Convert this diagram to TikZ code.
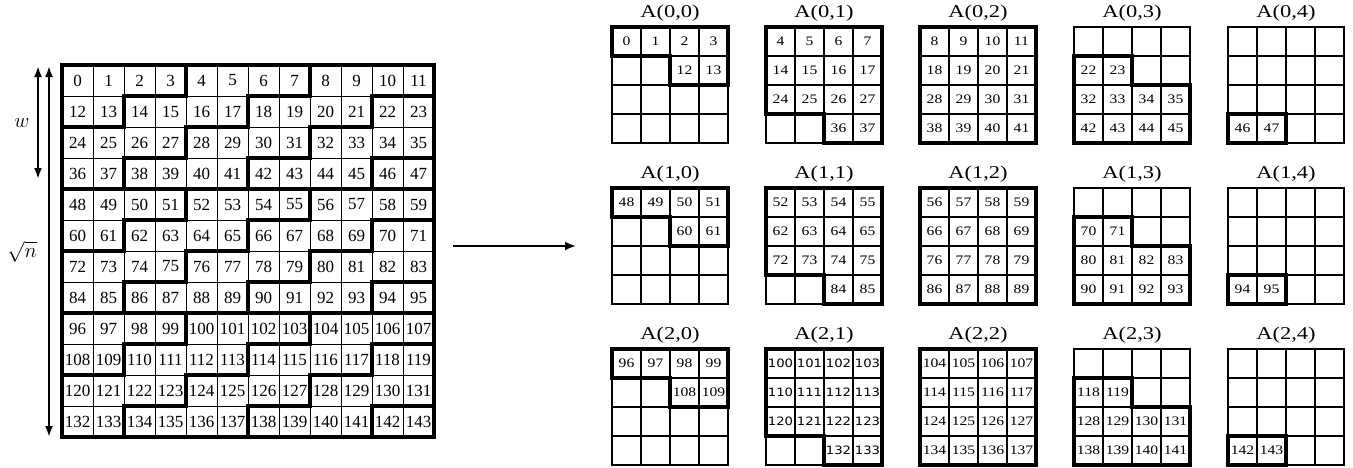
\documentclass[tikz,border=0pt]{standalone}
\usepackage{fontspec}
\setmainfont{Liberation Serif}
\newfontfamily\rfont[FakeStretch=1.2]{Liberation Serif}
\newfontfamily\tfont[FakeStretch=1.25]{Liberation Serif}
\newfontfamily\sfont[FakeStretch=1.15]{DejaVu Sans}
\usetikzlibrary{arrows.meta}
\begin{document}
\begin{tikzpicture}[x=1pt,y=-1pt,
  lcell/.style={draw=black,line width=0.8pt,minimum size=31pt,inner sep=0pt,font=\fontsize{17}{17}\selectfont},
  rcell/.style={draw=black,line width=1.1pt,minimum size=29pt,inner sep=0pt,font=\rfont\fontsize{13}{13}\selectfont},
  title/.style={font=\tfont\fontsize{18}{18}\selectfont,inner sep=0pt},
  thickline/.style={line width=4pt,line cap=rect,line join=miter},
  arr/.style={line width=2pt,-{Latex[length=11pt,width=9pt]}},
  darr/.style={line width=2pt,{Latex[length=11pt,width=8pt]}-{Latex[length=11pt,width=8pt]}},
  lab/.style={inner sep=0pt,font=\fontsize{22}{22}\selectfont}]
\useasboundingbox (0,0) rectangle (1353,467);
% left grid
\foreach \r in {0,...,11}{\foreach \c in {0,...,11}{
  \pgfmathtruncatemacro\k{\r*12+\c}
  \node[lcell] (L\k) at ({77.5+31*\c},{80.5+31*\r}) {\k};
}}
\foreach \g in {0,1,2}{
 \begin{scope}[shift={(62,{65+124*\g})},x=31pt,y=-31pt]
  \draw[thickline] (4,0)--(4,1)--(2,1)--(2,2)--(0,2);
  \draw[thickline] (8,0)--(8,1)--(6,1)--(6,2)--(4,2)--(4,3)--(2,3)--(2,4);
  \draw[thickline] (12,1)--(10,1)--(10,2)--(8,2)--(8,3)--(6,3)--(6,4);
  \draw[thickline] (12,3)--(10,3)--(10,4);
  \draw[thickline] (0,4)--(12,4);
 \end{scope}}
\draw[thickline] (L0.north west) rectangle (L143.south east);
% arrows and labels
\coordinate (wt) at (38,66); \coordinate (wb) at (38,179);
\coordinate (nt) at (49,66); \coordinate (nb) at (49,437);
\draw[darr] (wt)--(wb);
\draw[darr] (nt)--(nb);
\node[lab] (wlab) at (22,123) {$w$};
\node[lab] (nlab) at (22,252) {$\sqrt{n}$};
\coordinate (as) at (453,246); \coordinate (ae) at (576,246);
\draw[arr] (as)--(ae);
% right grids
\def\slots{{0,1,2,3,-1,-1,12,13,-1,-1,-1,-1,-1,-1,-1,-1,4,5,6,7,14,15,16,17,24,25,26,27,-1,-1,36,37,8,9,10,11,18,19,20,21,28,29,30,31,38,39,40,41,-1,-1,-1,-1,22,23,-1,-1,32,33,34,35,42,43,44,45,-1,-1,-1,-1,-1,-1,-1,-1,-1,-1,-1,-1,46,47,-1,-1}}
\foreach \i in {0,1,2}{\foreach \j in {0,...,4}{
  \pgfmathsetmacro\gx{612+154*\j}
  \pgfmathsetmacro\gy{27+161*\i}
  \node[title] (T\i\j) at ({\gx+58},{\gy-14}) {A(\i,\j)};
  \foreach \s in {0,...,15}{
    \pgfmathtruncatemacro\v{\slots[\j*16+\s]}
    \pgfmathtruncatemacro\val{\v+48*\i}
    \pgfmathtruncatemacro\rr{div(\s,4)}
    \pgfmathtruncatemacro\cc{mod(\s,4)}
    \ifnum\v<0 \def\txt{}\else\edef\txt{\val}\fi
    \def\cf{}
    \ifnum\i=2 \ifnum\j=1 \def\cf{\sfont\fontsize{11.5}{12}\selectfont}\fi\fi
    \node[rcell] (R\i\j-\s) at ({\gx+14.5+29*\cc},{\gy+14.5+29*\rr}) {\cf\txt};
  }
  \begin{scope}[shift={(\gx,\gy)},x=29pt,y=-29pt]
    \ifcase\j
      \draw[thickline] (0,0)--(4,0)--(4,2)--(2,2)--(2,1)--(0,1)--cycle;
    \or
      \draw[thickline] (0,0)--(4,0)--(4,4)--(2,4)--(2,3)--(0,3)--cycle;
    \or
      \draw[thickline] (0,0)--(4,0)--(4,4)--(0,4)--cycle;
    \or
      \draw[thickline] (0,1)--(2,1)--(2,2)--(4,2)--(4,4)--(0,4)--cycle;
    \or
      \draw[thickline] (0,3)--(2,3)--(2,4)--(0,4)--cycle;
    \fi
  \end{scope}
}}
\end{tikzpicture}
\end{document}
